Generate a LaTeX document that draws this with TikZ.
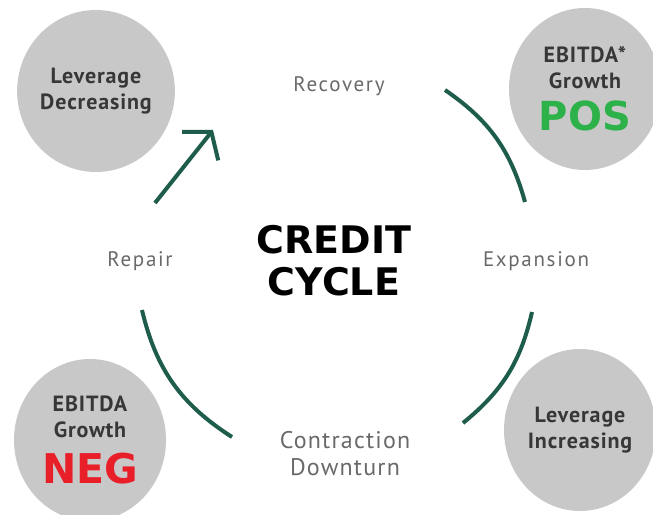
\documentclass[tikz,border=0pt]{standalone}
\usepackage{fontspec}
\setmainfont{PT Sans}
\newfontfamily\titlefont{DejaVu Sans}
\usetikzlibrary{arrows.meta,shapes.geometric}

\definecolor{cyclegreen}{RGB}{30,92,76}
\definecolor{discgray}{RGB}{200,200,200}
\definecolor{posgreen}{RGB}{45,178,74}
\definecolor{negred}{RGB}{232,30,40}
\definecolor{labelgray}{RGB}{105,105,105}
\definecolor{textdark}{RGB}{55,55,55}

\begin{document}
\begin{tikzpicture}[x=1pt,y=1pt]

      \useasboundingbox (0,0) rectangle (653,514);

      \begin{scope}[every node/.style={ellipse,fill=discgray,minimum width=152pt,
          minimum height=162pt,inner sep=0pt,align=center,text=textdark,
          font=\fontsize{22}{26}\selectfont\bfseries\addfontfeature{LetterSpace=4}}]
        \node (1) at (96,423)  {Leverage\\Decreasing};
        \node (2) at (585,425) {EBITDA*\\Growth\\[11pt]{\titlefont\bfseries\fontsize{40}{40}\selectfont\color{posgreen}POS}};
        \node (3) at (90,74)   {EBITDA\\Growth\\[14pt]{\titlefont\bfseries\fontsize{41}{41}\selectfont\color{negred}NEG}};
        \node (4) at (580,84)  {Leverage\\Increasing};
      \end{scope}

      \node[font=\titlefont\bfseries\fontsize{38}{42}\selectfont,align=center] (title) at (334,253) {CREDIT\\CYCLE};

      \begin{scope}[every node/.style={text=labelgray,
          font=\fontsize{21}{25}\selectfont\addfontfeature{LetterSpace=8}}]
        \node[anchor=base] (rec) at (339,422) {Recovery};
        \node[anchor=base] (exp) at (536,247) {Expansion};
        \node[anchor=base] (rep) at (140,247) {Repair};
        \node[align=center,font=\fontsize{24}{27}\selectfont\addfontfeature{LetterSpace=5}] (con) at (345,60) {Contraction\\Downturn};
      \end{scope}

      \coordinate (a1) at (445,424);
      \coordinate (a2) at (525,312);
      \coordinate (b1) at (532,202);
      \coordinate (b2) at (463,91);
      \coordinate (c1) at (232,77);
      \coordinate (c2) at (142,204);
      \coordinate (d1) at (155,311);
      \coordinate (d2) at (213,384);

      \begin{scope}[every edge/.style={draw,cyclegreen,line width=4pt}]
        \path (a1) edge[bend left=20] (a2);
        \path (b1) edge[bend left=19] (b2);
        \path (c1) edge[bend left=22] (c2);
        \path (d1) edge[-{Straight Barb[length=18pt,width=46pt]}] (d2);
      \end{scope}

    \end{tikzpicture}
\end{document}
